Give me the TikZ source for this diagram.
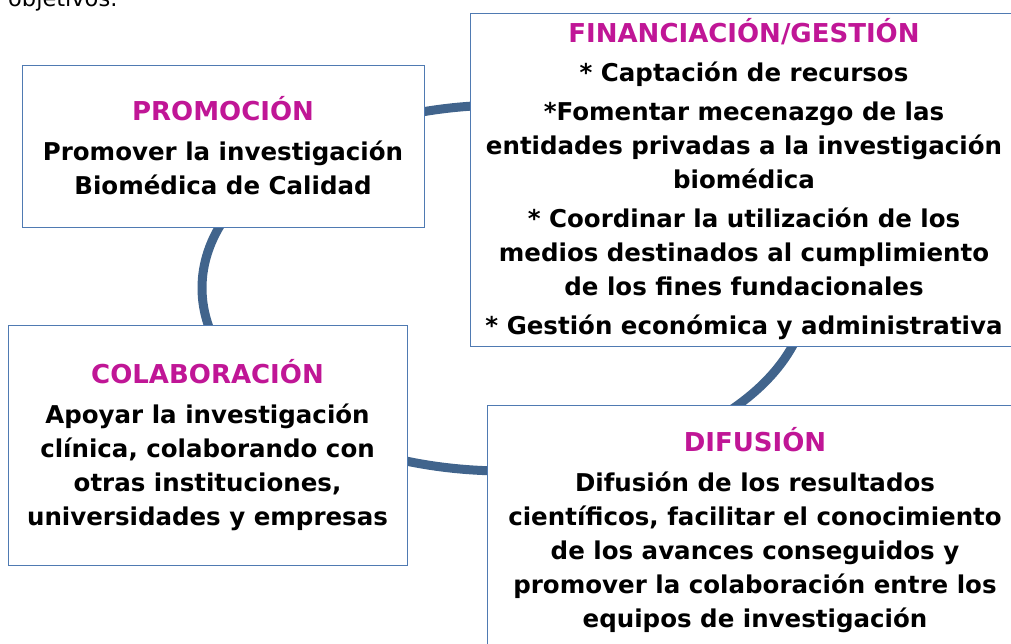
\documentclass[tikz,border=0pt]{standalone}
\usepackage{fontspec}
\setmainfont{DejaVu Sans}
\usetikzlibrary{positioning}

\definecolor{ringblue}{RGB}{65,100,140}
\definecolor{boxline}{RGB}{79,122,178}
\definecolor{titlepink}{RGB}{192,22,150}

\tikzset{
	boxnode/.style = {draw = boxline, line width = 1pt, fill = white, align = center, inner sep = 0pt, font = \bfseries\fontsize{24.5}{34}\selectfont},
	ringline/.style = {draw = ringblue, line width = 9pt}
}
\newcommand{\boxtitle}[1]{{\color{titlepink}\fontsize{26}{34}\selectfont #1}}

\begin{document}
\begin{tikzpicture}[x = 1pt, y = -1pt]
			%\draw[help lines] (0,0) grid (1011,643);
			\useasboundingbox (0, 0) rectangle (1011, 643);
			\node[anchor = base west, inner sep = 0pt, font = \fontsize{22.5}{27}\selectfont] (objetivos) at (8, 6) {objetivos:};
			
			\draw[ringline] (505, 288) ellipse [x radius = 303, y radius = 183];
			
			\node[boxnode, minimum width = 402, minimum height = 162] (promocion) at (223, 146) {\boxtitle{PROMOCIÓN}\\[6pt]
				Promover la investigación\\
				Biomédica de Calidad};
			\node[boxnode, minimum width = 548, minimum height = 333] (financiacion) at (744, 179.5) {\boxtitle{FINANCIACIÓN/GESTIÓN}\\[5pt]
				* Captación de recursos\\[5pt]
				*Fomentar mecenazgo de las\\
				entidades privadas a la investigación\\
				biomédica\\[5pt]
				* Coordinar la utilización de los\\
				medios destinados al cumplimiento\\
				de los fines fundacionales\\[5pt]
				* Gestión económica y administrativa};
			\node[boxnode, minimum width = 399, minimum height = 240] (colaboracion) at (207.5, 445) {\boxtitle{COLABORACIÓN}\\[6pt]
				Apoyar la investigación\\
				clínica, colaborando con\\
				otras instituciones,\\
				universidades y empresas};
			\node[boxnode, minimum width = 536, minimum height = 250] (difusion) at (755, 530) {\boxtitle{DIFUSIÓN}\\[6pt]
				Difusión de los resultados\\
				científicos, facilitar el conocimiento\\
				de los avances conseguidos y\\
				promover la colaboración entre los\\
				equipos de investigación};
\end{tikzpicture}
\end{document}
